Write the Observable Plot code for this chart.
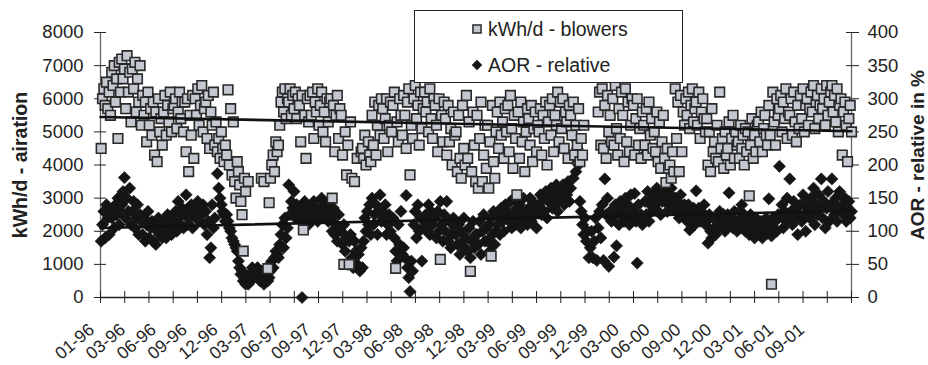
<!DOCTYPE html>
<html>
<head>
<meta charset="utf-8">
<script src="https://cdn.jsdelivr.net/npm/d3@7"></script>
<script src="https://cdn.jsdelivr.net/npm/@observablehq/plot@0.6"></script>
<style>
  html, body { margin: 0; padding: 0; background: #fff; overflow: hidden; }
  #wrap { position: relative; width: 928px; height: 365px; }
  #legend { position: absolute; left: 414px; top: 10px; }
</style>
</head>
<body>
<div id="wrap"></div>
<script>
// ---- data (8 readings per month, Jan 1996 - Dec 2001) ----
const kwh = [
  // 1996
  4500,6000,6300,5800,6500,5700,6200,5500,
  6800,6400,7000,5900,6600,4800,7100,6200,
  7200,6600,6900,5700,7300,6200,6800,5300,
  6900,6300,7100,5600,6600,5900,7000,5200,
  6100,5500,5900,4700,6200,5200,5700,4900,
  5900,4300,5600,4100,6000,5000,5400,4600,
  5600,6100,4900,5800,5300,6200,5000,5700,
  5800,6000,5100,5600,6200,5400,5900,5000,
  5900,4400,6000,3800,5500,4900,6100,4200,
  6000,5500,6300,5200,5800,6400,5000,5700,
  5900,4800,6100,4500,5600,5200,6200,4600,
  5300,4400,4800,4200,5000,4500,4100,4600,
  // 1997
  4300,6270,4000,5700,3700,5300,3500,3000,
  4100,3800,3400,2900,2500,1400,3600,3200,
  null,3500,null,null,null,null,null,null,
  null,null,null,3600,null,3500,null,null,
  870,2860,3600,4000,4300,3800,4700,4400,
  4600,5200,5900,6200,5600,6300,5400,6000,
  5900,6300,5500,6100,5700,6200,5400,6000,
  5800,4700,6100,2040,5500,4200,6000,5300,
  6100,5500,6200,4800,5900,5600,6300,5200,
  5800,6200,5000,5600,4700,6000,5300,5900,
  6000,3000,5800,4400,5500,6100,4800,5700,
  5500,4300,1000,5000,3700,4600,1000,5300,
  // 1998
  3600,null,3500,null,4200,null,null,4400,
  4500,4200,4900,4000,null,4700,4300,4100,
  5500,4600,5900,4300,5200,5800,4900,6000,
  5700,4800,5400,6000,4400,5200,5900,5000,
  5800,6200,880,5300,4700,6000,5500,4900,
  6100,5500,4500,5900,6300,3700,5200,4800,
  6000,6400,5400,5800,4600,6200,5100,5700,
  6200,5600,5900,5000,6300,5400,4800,6000,
  5800,5200,4400,6000,1150,5500,4700,5900,
  5400,4300,5800,4700,5100,4000,5600,4900,
  5000,3800,5500,4200,3600,5800,4500,4000,
  6100,4200,5300,790,3800,5600,4600,3500,
  // 1999
  5500,3300,4800,5900,3500,4300,5200,3900,
  5200,3300,4700,1250,5800,4100,3600,5000,
  5600,4500,5900,4900,5300,4200,5700,5000,
  5800,4400,6100,5100,3900,5500,4800,3100,
  5600,4200,5900,4700,5300,3800,5000,5700,
  5400,4600,5800,4100,5100,5600,4400,5200,
  5000,5700,4300,5500,4800,5900,4000,5300,
  5800,4900,6000,4400,5500,5200,6200,4700,
  5900,5100,6000,4500,5600,5300,4200,5800,
  5500,4900,5900,4300,5200,4600,5700,4100,
  4800,4300,5200,null,null,null,null,null,
  null,null,null,null,null,5600,6200,4600,
  // 2000
  6300,4500,5800,4200,6100,5000,5500,4700,
  6000,4600,6400,5100,4300,5700,4800,6200,
  5500,4100,6300,4700,5900,4400,5200,6000,
  5800,4300,5400,6000,4600,5100,4200,5600,
  5200,4600,5700,4300,5900,4900,5400,4500,
  5000,4400,5600,4100,5300,3900,4700,5500,
  4200,3470,4500,3900,4000,3600,4400,3800,
  6300,4800,5900,3800,6100,4400,5600,5200,
  6000,5500,6200,5100,5800,6300,5300,5700,
  5900,5200,6200,4800,5600,6000,5400,5000,
  5400,4000,5000,3800,5700,4400,4700,4200,
  5200,4100,6200,4500,4800,3900,5000,4300,
  // 2001
  4500,5300,4000,4800,5500,4200,5000,4600,
  4700,4200,5200,4500,4900,4000,5100,4400,
  5000,3070,4600,5400,4200,4900,4400,5200,
  5300,4700,5600,4400,5100,5500,4900,4600,
  5800,4900,400,6200,5300,4600,6000,5500,
  5700,6100,5000,5900,5400,6300,4800,5600,
  5500,6000,4900,6200,5300,4700,5800,5100,
  6100,5400,6300,5000,5800,6000,5200,5700,
  6200,5600,6400,5100,5900,6100,5400,5800,
  6300,5700,6000,5200,6400,5500,5900,6200,
  6400,5600,6100,5300,6300,5000,5800,6000,
  4300,5600,5900,5200,4100,5400,5800,5000
];
const aor = [
  // 1996
  85,110,130,90,140,120,95,125,
  120,135,105,140,125,150,110,130,
  140,160,181,120,150,130,165,110,
  130,145,105,120,140,95,125,115,
  95,120,85,110,130,90,105,115,
  85,110,80,100,120,95,105,90,
  100,115,90,125,105,110,95,120,
  115,130,100,145,120,110,135,105,
  125,155,110,135,120,140,105,130,
  135,120,145,115,130,125,140,110,
  130,95,115,60,75,140,105,120,
  219,187,165,150,140,130,125,115,
  // 1997
  125,115,105,100,90,85,80,75,
  70,55,45,35,40,25,30,20,
  30,20,35,25,45,30,40,35,
  45,35,25,40,30,20,35,45,
  25,30,40,55,45,60,70,65,
  60,80,95,110,75,120,90,105,
  170,125,145,135,160,120,140,130,
  120,135,0,125,145,115,130,110,
  130,140,120,145,125,135,115,130,
  135,150,120,145,125,140,115,130,
  120,100,135,95,110,85,125,105,
  100,80,110,70,90,50,85,95,
  // 1998
  60,45,85,70,50,65,40,75,
  45,85,120,100,130,110,140,95,
  150,110,125,140,95,130,155,115,
  130,120,140,95,110,125,100,115,
  120,90,70,55,110,80,130,65,
  75,60,154,45,30,9,55,40,
  110,130,90,140,100,120,55,105,
  115,125,100,140,95,130,110,120,
  120,90,130,100,145,110,85,125,
  100,145,85,115,75,95,120,105,
  95,80,110,65,100,85,120,75,
  90,70,105,60,85,115,75,95,
  // 1999
  95,80,115,65,100,125,85,105,
  85,110,70,120,95,130,80,100,
  110,125,95,135,115,100,140,120,
  130,115,145,105,125,150,110,135,
  120,140,105,130,150,115,125,110,
  135,150,115,145,125,140,105,130,
  140,155,125,150,130,160,120,145,
  150,165,135,155,140,170,130,145,
  160,150,170,140,165,155,175,145,
  165,210,180,240,190,225,200,145,
  130,110,95,120,85,100,60,75,
  100,60,85,120,56,105,130,90,
  // 2000
  140,56,179,125,150,47,130,115,
  120,61,140,78,130,110,145,125,
  135,115,150,125,140,110,155,120,
  130,157,115,52,140,120,125,110,
  214,145,125,160,115,140,130,150,
  155,140,165,130,150,125,145,160,
  145,160,130,155,140,165,135,150,
  150,130,145,120,155,135,125,140,
  130,115,140,102,125,120,135,110,
  161,125,135,115,130,120,140,110,
  115,82,125,100,90,120,105,95,
  120,105,130,110,115,125,100,112,
  // 2001
  125,158,110,120,105,130,115,100,
  115,130,105,140,110,125,100,120,
  110,95,125,100,115,90,120,105,
  105,95,115,90,110,100,120,97,
  149,110,93,120,105,115,100,125,
  198,125,140,105,130,115,150,120,
  179,130,110,145,120,135,95,125,
  140,115,155,125,100,135,145,120,
  150,130,165,110,140,125,155,135,
  179,120,145,105,135,160,115,140,
  179,140,125,150,115,135,160,130,
  140,125,150,115,135,145,120,130
];
const kwhTrend = [5450, 5020];   // linear trend, start and end
const aorTrend = [105, 131];
const xLabels = ["01-96","03-96","06-96","09-96","12-96","03-97","06-97","09-97","12-97",
  "03-98","06-98","09-98","12-98","03-99","06-99","09-99","12-99","03-00","06-00","09-00",
  "12-00","03-01","06-01","09-01"];
const leftTicks = [0,1000,2000,3000,4000,5000,6000,7000,8000];
const rightTicks = [0,50,100,150,200,250,300,350,400];
const seriesNames = ["kWh/d - blowers", "AOR - relative"];
const yTitles = ["kWh/d - airation", "AOR - relative in %"];

// ---- build ----
const DAY = 864e5;
const t0 = Date.UTC(1996, 0, 1);
const spanDays = 2190;
const tEnd = t0 + spanDays * DAY;
const ratio = 8000 / 400;

function dateOf(i) {
  const m = Math.floor(i / 8), j = i % 8;
  const a = Date.UTC(1996, m, 1), b = Date.UTC(1996, m + 1, 1);
  return new Date(a + (j + 0.5) / 8 * (b - a));
}
const kwhData = kwh.map((v, i) => ({date: dateOf(i), v})).filter(d => d.v != null);
const aorData = aor.map((v, i) => ({date: dateOf(i), v})).filter(d => d.v != null);
const trendK = [{date: new Date(t0), v: kwhTrend[0]}, {date: new Date(tEnd), v: kwhTrend[1]}];
const trendA = [{date: new Date(t0), v: aorTrend[0]}, {date: new Date(tEnd), v: aorTrend[1]}];

const labelDates = xLabels.map((s, k) => new Date(t0 + k * 90 * DAY));
const labelMap = new Map(labelDates.map((d, k) => [+d, xLabels[k]]));
const tickDates = d3.range(32).map(i => new Date(t0 + i * spanDays / 31 * DAY));
const rightMap = new Map(rightTicks.map(v => [v * ratio, String(v)]));

const FONT = "'Liberation Sans', Arial, Helvetica, sans-serif";
const INK = "#222";
const SQ_R = 5.4, DI_R = 5.5;

const chart = Plot.plot({
  width: 928, height: 365,
  marginLeft: 100, marginRight: 77, marginTop: 32, marginBottom: 68,
  x: {type: "utc", domain: [new Date(t0), new Date(tEnd)]},
  y: {domain: [0, 8000]},
  style: {fontFamily: FONT, color: INK, background: "#fff", overflow: "visible"},
  marks: [
    // axis lines
    Plot.ruleX([new Date(t0), new Date(tEnd)], {stroke: "#666", strokeWidth: 1.3}),
    Plot.ruleY([0], {stroke: "#222", strokeWidth: 1.3}),
    // left axis (cross ticks)
    Plot.axisY({anchor: "left", ticks: leftTicks, tickSize: 6, tickPadding: 11, fontSize: 18.5, stroke: "#222",
      tickFormat: d => String(d), label: null}),
    Plot.axisY({anchor: "left", ticks: leftTicks, tickSize: 6, dx: 6, tickFormat: () => "", stroke: "#222", label: null}),
    // right axis
    Plot.axisY({anchor: "right", ticks: leftTicks, tickSize: 7, tickPadding: 9, fontSize: 18.5, stroke: "#222",
      tickFormat: d => rightMap.get(d), label: null}),
    Plot.axisY({anchor: "right", ticks: leftTicks, tickSize: 6, dx: -6, tickFormat: () => "", stroke: "#222", label: null}),
    // bottom axis tick marks (cross)
    Plot.axisX({ticks: tickDates, tickSize: 6, tickFormat: () => "", stroke: "#222", label: null}),
    Plot.axisX({ticks: tickDates, tickSize: 6, dy: -6, tickFormat: () => "", stroke: "#222", label: null}),
    // bottom labels (rotated)
    Plot.text(labelDates, {x: d => d, frameAnchor: "bottom", text: d => labelMap.get(+d),
      rotate: -40, textAnchor: "end", lineAnchor: "bottom", dx: -5, dy: 34, fontSize: 17.5, fill: INK}),
    // axis titles
    Plot.text([yTitles[0]], {frameAnchor: "left", text: d => d, rotate: -90, dx: -80,
      fontWeight: "bold", fontSize: 19.5, textAnchor: "middle", lineAnchor: "middle", fill: INK}),
    Plot.text([yTitles[1]], {frameAnchor: "right", text: d => d, rotate: -90, dx: 66, dy: -10,
      fontWeight: "bold", fontSize: 19, textAnchor: "middle", lineAnchor: "middle", fill: INK}),
    // data
    Plot.dot(aorData, {x: "date", y: d => d.v * ratio, symbol: "diamond2", r: DI_R,
      fill: "#151515", stroke: "#151515", strokeWidth: 0.6}),
    Plot.dot(kwhData, {x: "date", y: "v", symbol: "square", r: SQ_R,
      fill: "#c4c8d0", stroke: "#2a2a2a", strokeWidth: 1.6}),
    // trend lines
    Plot.line(trendA, {x: "date", y: d => d.v * ratio, stroke: "#111", strokeWidth: 2.6}),
    Plot.line(trendK, {x: "date", y: "v", stroke: "#111", strokeWidth: 2.6})
  ]
});
document.getElementById("wrap").appendChild(chart);

// ---- legend (overlay box) ----
const lg = d3.create("svg").attr("id", "legend").attr("width", 270).attr("height", 74)
  .style("font-family", FONT);
lg.append("rect").attr("x", 0.5).attr("y", 0.5).attr("width", 268).attr("height", 72)
  .attr("fill", "#fff").attr("stroke", "#222").attr("stroke-width", 1);
lg.append("path").attr("d", d3.symbol(d3.symbolSquare, 4.6 * 4.6 * Math.PI)())
  .attr("transform", "translate(63,19)").attr("fill", "#c4c8d0").attr("stroke", "#2a2a2a").attr("stroke-width", 1.5);
lg.append("path").attr("d", d3.symbol(d3.symbolDiamond2, 4.7 * 4.7 * Math.PI)())
  .attr("transform", "translate(63,55)").attr("fill", "#151515");
lg.append("text").attr("x", 74).attr("y", 26).attr("font-size", 19.5).attr("fill", INK).text(seriesNames[0]);
lg.append("text").attr("x", 74).attr("y", 62).attr("font-size", 19.5).attr("fill", INK).text(seriesNames[1]);
document.getElementById("wrap").appendChild(lg.node());
</script>
</body>
</html>
